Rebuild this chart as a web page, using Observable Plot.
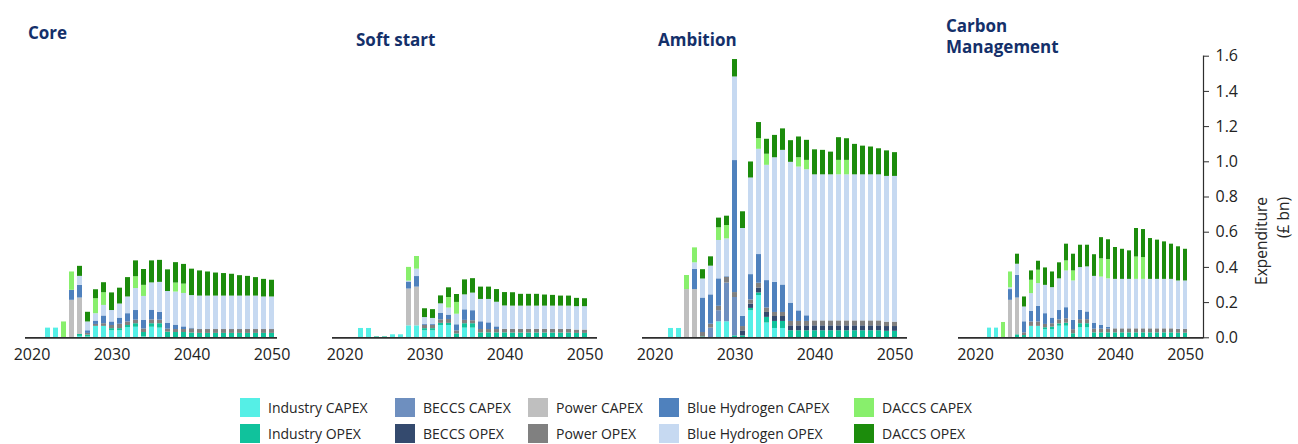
<!DOCTYPE html>
<html>
<head>
<meta charset="utf-8">
<script src="https://cdn.jsdelivr.net/npm/d3@7"></script>
<script src="https://cdn.jsdelivr.net/npm/@observablehq/plot@0.6"></script>
<style>
  body { margin: 0; background: #fff; font-family: "Open Sans", sans-serif; }
  #wrap { position: relative; width: 1298px; height: 444px; overflow: hidden; background: #fff; }
  .panel { position: absolute; top: 0; }
  .title { position: absolute; color: #14306a; font-weight: 700; font-size: 17px; line-height: 21px; white-space: nowrap; }
  .leg { position: absolute; display: flex; align-items: center; font-size: 14px; color: #262626; white-space: nowrap; }
  .sw { width: 20px; height: 19px; margin-right: 8px; flex: none; }
</style>
</head>
<body>
<div id="wrap"></div>
<script>
// ---------- data ----------
const years = d3.range(2020, 2051);
const xTicks = [2020, 2030, 2040, 2050];
const yTicks = [0, 0.2, 0.4, 0.6, 0.8, 1.0, 1.2, 1.4, 1.6];

const seriesNames = [
  "Industry CAPEX", "Industry OPEX", "BECCS CAPEX", "BECCS OPEX", "Power CAPEX",
  "Power OPEX", "Blue Hydrogen CAPEX", "Blue Hydrogen OPEX", "DACCS CAPEX", "DACCS OPEX"
];
const seriesColors = [
  "#55efe6", "#10c29c", "#6e8fbf", "#344a6e", "#bfbfbf",
  "#808080", "#4f81bd", "#c6d9f1", "#88ef6c", "#1c8c0c"
];
const panelTitles = ["Core", "Soft start", "Ambition", "Carbon\nManagement"];

// rows: [year, IndCAPEX, IndOPEX, BECCSCAPEX, BECCSOPEX, PowerCAPEX, PowerOPEX, H2CAPEX, H2OPEX, DACCSCAPEX, DACCSOPEX]
const core = [
  [2022, 0.055, 0, 0, 0, 0, 0, 0, 0, 0, 0],
  [2023, 0.055, 0, 0, 0, 0, 0, 0, 0, 0, 0],
  [2024, 0, 0, 0, 0, 0, 0, 0, 0, 0.09, 0],
  [2025, 0, 0, 0, 0, 0.213, 0, 0.057, 0, 0.104, 0],
  [2026, 0.008, 0.011, 0, 0, 0.207, 0, 0.072, 0.051, 0, 0.057],
  [2027, 0.005, 0.01, 0, 0, 0, 0.01, 0.015, 0.05, 0, 0.055],
  [2028, 0.065, 0, 0, 0, 0, 0.011, 0.019, 0.042, 0.085, 0.051],
  [2029, 0.065, 0, 0, 0, 0, 0.015, 0.044, 0.06, 0.072, 0.057],
  [2030, 0.04, 0.012, 0, 0, 0, 0.018, 0.02, 0.065, 0, 0.1],
  [2031, 0.04, 0.012, 0, 0, 0, 0.025, 0.035, 0.08, 0, 0.09],
  [2032, 0.058, 0.012, 0, 0, 0, 0.02, 0.047, 0.095, 0, 0.11],
  [2033, 0.06, 0.02, 0, 0, 0, 0.02, 0.055, 0.125, 0.067, 0.09],
  [2034, 0.005, 0.025, 0, 0, 0, 0.02, 0.05, 0.135, 0.063, 0.09],
  [2035, 0.06, 0.02, 0, 0, 0, 0.022, 0.055, 0.155, 0, 0.125],
  [2036, 0.055, 0.025, 0, 0, 0, 0.02, 0.045, 0.17, 0, 0.125],
  [2037, 0, 0.032, 0, 0, 0, 0.017, 0.034, 0.18, 0, 0.123],
  [2038, 0, 0.03, 0, 0, 0, 0.017, 0.025, 0.188, 0.051, 0.116],
  [2039, 0, 0.03, 0, 0, 0, 0.017, 0.015, 0.19, 0.053, 0.112],
  [2040, 0, 0.027, 0, 0, 0, 0.023, 0.005, 0.185, 0, 0.15],
  [2041, 0, 0.025, 0, 0, 0, 0.022, 0, 0.19, 0, 0.143],
  [2042, 0, 0.025, 0, 0, 0, 0.022, 0, 0.19, 0, 0.137],
  [2043, 0, 0.025, 0, 0, 0, 0.022, 0, 0.19, 0, 0.131],
  [2044, 0, 0.025, 0, 0, 0, 0.022, 0, 0.19, 0, 0.128],
  [2045, 0, 0.025, 0, 0, 0, 0.022, 0, 0.19, 0, 0.124],
  [2046, 0, 0.025, 0, 0, 0, 0.022, 0, 0.19, 0, 0.116],
  [2047, 0, 0.025, 0, 0, 0, 0.022, 0, 0.19, 0, 0.112],
  [2048, 0, 0.025, 0, 0, 0, 0.022, 0, 0.19, 0, 0.105],
  [2049, 0, 0.025, 0, 0, 0, 0.022, 0, 0.185, 0, 0.1],
  [2050, 0, 0.025, 0, 0, 0, 0.022, 0, 0.185, 0, 0.095]
];

const softStart = [
  [2022, 0.053, 0, 0, 0, 0, 0, 0, 0, 0, 0],
  [2023, 0.053, 0, 0, 0, 0, 0, 0, 0, 0, 0],
  [2024, 0, 0.005, 0, 0, 0, 0, 0, 0, 0, 0],
  [2025, 0, 0.005, 0, 0, 0, 0, 0, 0, 0, 0],
  [2026, 0.017, 0, 0, 0, 0, 0, 0, 0, 0, 0],
  [2027, 0.017, 0, 0, 0, 0, 0, 0, 0, 0, 0],
  [2028, 0.068, 0, 0, 0, 0.209, 0, 0.04, 0.005, 0.078, 0],
  [2029, 0.068, 0, 0, 0, 0.22, 0, 0.06, 0.042, 0.072, 0],
  [2030, 0.04, 0.012, 0, 0, 0, 0.018, 0.005, 0.04, 0, 0.05],
  [2031, 0.04, 0.012, 0, 0, 0, 0.018, 0.005, 0.035, 0, 0.05],
  [2032, 0.07, 0.012, 0, 0, 0, 0.02, 0.038, 0.053, 0, 0.045],
  [2033, 0.07, 0.012, 0, 0, 0, 0.022, 0.025, 0.04, 0.06, 0.055],
  [2034, 0, 0.022, 0, 0, 0, 0.017, 0.035, 0.06, 0.067, 0.045],
  [2035, 0.055, 0.025, 0, 0, 0, 0.019, 0.06, 0.085, 0, 0.085],
  [2036, 0.055, 0.025, 0, 0, 0, 0.017, 0.057, 0.1, 0, 0.082],
  [2037, 0, 0.028, 0, 0, 0, 0.019, 0.044, 0.127, 0, 0.07],
  [2038, 0, 0.028, 0, 0, 0, 0.019, 0.038, 0.133, 0, 0.07],
  [2039, 0, 0.028, 0, 0, 0, 0.019, 0.015, 0.14, 0, 0.072],
  [2040, 0, 0.028, 0, 0, 0, 0.02, 0, 0.133, 0, 0.076],
  [2041, 0, 0.027, 0, 0, 0, 0.021, 0, 0.132, 0, 0.076],
  [2042, 0, 0.027, 0, 0, 0, 0.021, 0, 0.132, 0, 0.067],
  [2043, 0, 0.027, 0, 0, 0, 0.021, 0, 0.132, 0, 0.067],
  [2044, 0, 0.027, 0, 0, 0, 0.021, 0, 0.132, 0, 0.067],
  [2045, 0, 0.027, 0, 0, 0, 0.021, 0, 0.132, 0, 0.063],
  [2046, 0, 0.027, 0, 0, 0, 0.021, 0, 0.132, 0, 0.061],
  [2047, 0, 0.027, 0, 0, 0, 0.021, 0, 0.132, 0, 0.057],
  [2048, 0, 0.027, 0, 0, 0, 0.021, 0, 0.132, 0, 0.057],
  [2049, 0, 0.025, 0, 0, 0, 0.019, 0, 0.133, 0, 0.047],
  [2050, 0, 0.025, 0, 0, 0, 0.019, 0, 0.133, 0, 0.045]
];

const ambition = [
  [2022, 0.053, 0, 0, 0, 0, 0, 0, 0, 0, 0],
  [2023, 0.053, 0, 0, 0, 0, 0, 0, 0, 0, 0],
  [2024, 0, 0, 0, 0, 0.274, 0, 0, 0, 0.08, 0],
  [2025, 0, 0, 0, 0, 0.274, 0, 0.114, 0.038, 0.085, 0],
  [2026, 0, 0.005, 0, 0, 0, 0.025, 0.196, 0.108, 0, 0.053],
  [2027, 0, 0, 0.055, 0, 0, 0.022, 0.167, 0.163, 0, 0.053],
  [2028, 0.091, 0, 0.063, 0, 0, 0.025, 0.156, 0.218, 0.072, 0.055],
  [2029, 0.091, 0, 0.22, 0, 0, 0.032, 0.004, 0.215, 0.076, 0.053],
  [2030, 0, 0.011, 0.218, 0, 0, 0.028, 0.75, 0.475, 0, 0.099],
  [2031, 0, 0.011, 0, 0.028, 0, 0.025, 0.057, 0.5, 0, 0.095],
  [2032, 0.154, 0.013, 0, 0.025, 0, 0.023, 0.144, 0.549, 0, 0.091],
  [2033, 0.24, 0.015, 0, 0.028, 0, 0.027, 0.163, 0.598, 0.061, 0.091],
  [2034, 0.084, 0.032, 0, 0.028, 0, 0.025, 0.156, 0.655, 0.063, 0.085],
  [2035, 0.053, 0.04, 0, 0.028, 0, 0.023, 0.171, 0.708, 0, 0.127],
  [2036, 0.053, 0.04, 0, 0.028, 0, 0.023, 0.156, 0.765, 0, 0.122],
  [2037, 0, 0.04, 0, 0.028, 0, 0.025, 0.104, 0.8, 0, 0.123],
  [2038, 0, 0.04, 0, 0.028, 0, 0.025, 0.06, 0.817, 0.053, 0.118],
  [2039, 0, 0.04, 0, 0.028, 0, 0.025, 0.032, 0.83, 0.053, 0.114],
  [2040, 0, 0.04, 0, 0.028, 0, 0.028, 0, 0.83, 0, 0.142],
  [2041, 0, 0.04, 0, 0.028, 0, 0.028, 0, 0.83, 0, 0.139],
  [2042, 0, 0.04, 0, 0.028, 0, 0.028, 0, 0.83, 0, 0.129],
  [2043, 0, 0.04, 0, 0.028, 0, 0.028, 0, 0.83, 0.082, 0.129],
  [2044, 0, 0.04, 0, 0.028, 0, 0.028, 0, 0.83, 0.082, 0.123],
  [2045, 0, 0.04, 0, 0.028, 0, 0.028, 0, 0.83, 0, 0.173],
  [2046, 0, 0.04, 0, 0.028, 0, 0.028, 0, 0.83, 0, 0.163],
  [2047, 0, 0.04, 0, 0.028, 0, 0.028, 0, 0.83, 0, 0.158],
  [2048, 0, 0.04, 0, 0.028, 0, 0.028, 0, 0.83, 0, 0.148],
  [2049, 0, 0.037, 0, 0.027, 0, 0.025, 0, 0.828, 0, 0.145],
  [2050, 0, 0.037, 0, 0.027, 0, 0.025, 0, 0.828, 0, 0.135]
];

const carbonMgmt = [
  [2022, 0.055, 0, 0, 0, 0, 0, 0, 0, 0, 0],
  [2023, 0.055, 0, 0, 0, 0, 0, 0, 0, 0, 0],
  [2024, 0, 0, 0, 0, 0, 0, 0, 0, 0.087, 0],
  [2025, 0, 0, 0, 0, 0.213, 0, 0.061, 0.01, 0.09, 0],
  [2026, 0, 0.017, 0, 0, 0.209, 0, 0.129, 0.063, 0, 0.057],
  [2027, 0, 0.013, 0, 0, 0, 0.015, 0.063, 0.084, 0, 0.057],
  [2028, 0.065, 0, 0, 0, 0, 0.025, 0.061, 0.1, 0.076, 0.053],
  [2029, 0.065, 0, 0, 0, 0, 0.025, 0.089, 0.129, 0.076, 0.051],
  [2030, 0.046, 0.011, 0, 0, 0, 0.019, 0.061, 0.161, 0, 0.099],
  [2031, 0.046, 0.015, 0, 0, 0, 0.019, 0.032, 0.173, 0, 0.089],
  [2032, 0.066, 0.013, 0, 0, 0, 0.023, 0.053, 0.18, 0, 0.091],
  [2033, 0.066, 0.017, 0, 0, 0, 0.025, 0.063, 0.209, 0.057, 0.095],
  [2034, 0, 0.023, 0, 0, 0, 0.023, 0.053, 0.224, 0.057, 0.095],
  [2035, 0.057, 0.023, 0, 0, 0, 0.023, 0.053, 0.243, 0, 0.127],
  [2036, 0.057, 0.023, 0, 0, 0, 0.023, 0.044, 0.256, 0, 0.123],
  [2037, 0, 0.028, 0, 0, 0, 0.021, 0.034, 0.266, 0, 0.123],
  [2038, 0, 0.028, 0, 0, 0, 0.021, 0.021, 0.275, 0.104, 0.12],
  [2039, 0, 0.028, 0, 0, 0, 0.021, 0.011, 0.275, 0.11, 0.112],
  [2040, 0, 0.028, 0, 0, 0, 0.023, 0, 0.281, 0, 0.181],
  [2041, 0, 0.028, 0, 0, 0, 0.023, 0, 0.281, 0, 0.171],
  [2042, 0, 0.028, 0, 0, 0, 0.023, 0, 0.281, 0, 0.162],
  [2043, 0, 0.028, 0, 0, 0, 0.023, 0, 0.281, 0.127, 0.162],
  [2044, 0, 0.028, 0, 0, 0, 0.023, 0, 0.281, 0.124, 0.159],
  [2045, 0, 0.028, 0, 0, 0, 0.023, 0, 0.281, 0, 0.232],
  [2046, 0, 0.028, 0, 0, 0, 0.023, 0, 0.281, 0, 0.223],
  [2047, 0, 0.028, 0, 0, 0, 0.023, 0, 0.281, 0, 0.213],
  [2048, 0, 0.028, 0, 0, 0, 0.023, 0, 0.281, 0, 0.2],
  [2049, 0, 0.026, 0, 0, 0, 0.022, 0, 0.275, 0, 0.194],
  [2050, 0, 0.026, 0, 0, 0, 0.022, 0, 0.275, 0, 0.18]
];

const scenarios = [core, softStart, ambition, carbonMgmt];

// ---------- layout ----------
const panelLayout = [
  { left: 0,   width: 300, ml: 25, mr: 23, axis: false, tx: 28,  ty: 22 },
  { left: 310, width: 310, ml: 22, mr: 23, axis: false, tx: 356, ty: 29 },
  { left: 625, width: 300, ml: 17, mr: 18, axis: false, tx: 658, ty: 29 },
  { left: 935, width: 363, ml: 23, mr: 95, axis: true,  tx: 946, ty: 15 }
];
const PLOT_H = 372, Y_TOP = 55.7, Y_BASE = 337.3;

function tidy(rows) {
  const out = [];
  for (const r of rows) {
    seriesNames.forEach((s, i) => out.push({ year: r[0], series: s, value: r[i + 1] }));
  }
  return out;
}

const wrap = document.getElementById("wrap");

scenarios.forEach((rows, k) => {
  const L = panelLayout[k];
  const marks = [
    Plot.barY(tidy(rows), { x: "year", y: "value", fill: "series" }),
    Plot.ruleY([0], { stroke: "#2e2e2e", strokeWidth: 1.7 }),
    Plot.axisX({ ticks: xTicks, tickSize: 0, tickPadding: 11, tickFormat: d => String(d), label: null })
  ];
  if (L.axis) {
    marks.push(
      Plot.frame({ anchor: "right", stroke: "#2e2e2e", strokeWidth: 1.2 }),
      Plot.axisY({ anchor: "right", ticks: yTicks, tickSize: 5, tickPadding: 7, tickFormat: d => d.toFixed(1), label: null, stroke: "#2e2e2e" }),
      Plot.text(["Expenditure\n(£ bn)"], { frameAnchor: "right", dx: 67, rotate: -90, fontSize: 15.5, lineHeight: 1.42, fill: "#262626" })
    );
  }
  const chart = Plot.plot({
    width: L.width,
    height: PLOT_H,
    marginLeft: L.ml,
    marginRight: L.mr,
    marginTop: Y_TOP,
    marginBottom: PLOT_H - Y_BASE,
    style: { fontFamily: "Open Sans", fontSize: "16px", color: "#222", background: "transparent", overflow: "visible" },
    x: { type: "band", domain: years, paddingInner: 0.4, paddingOuter: 0.2, axis: null },
    y: { domain: [0, 1.6], axis: null },
    color: { domain: seriesNames, range: seriesColors },
    marks
  });
  chart.classList.add("panel");
  chart.style.left = L.left + "px";
  wrap.appendChild(chart);

  const t = document.createElement("div");
  t.className = "title";
  t.style.left = L.tx + "px";
  t.style.top = L.ty + "px";
  t.innerHTML = panelTitles[k].replace("\n", "<br>");
  wrap.appendChild(t);
});

// ---------- legend ----------
const legCols = [240, 395, 528, 659, 854];
const legRows = [398, 424];
seriesNames.forEach((s, i) => {
  const col = Math.floor(i / 2), row = i % 2;
  const d = document.createElement("div");
  d.className = "leg";
  d.style.left = legCols[col] + "px";
  d.style.top = legRows[row] + "px";
  const sw = document.createElement("span");
  sw.className = "sw";
  sw.style.background = seriesColors[i];
  d.appendChild(sw);
  const tx = document.createElement("span");
  tx.textContent = s;
  d.appendChild(tx);
  wrap.appendChild(d);
});
</script>
</body>
</html>
